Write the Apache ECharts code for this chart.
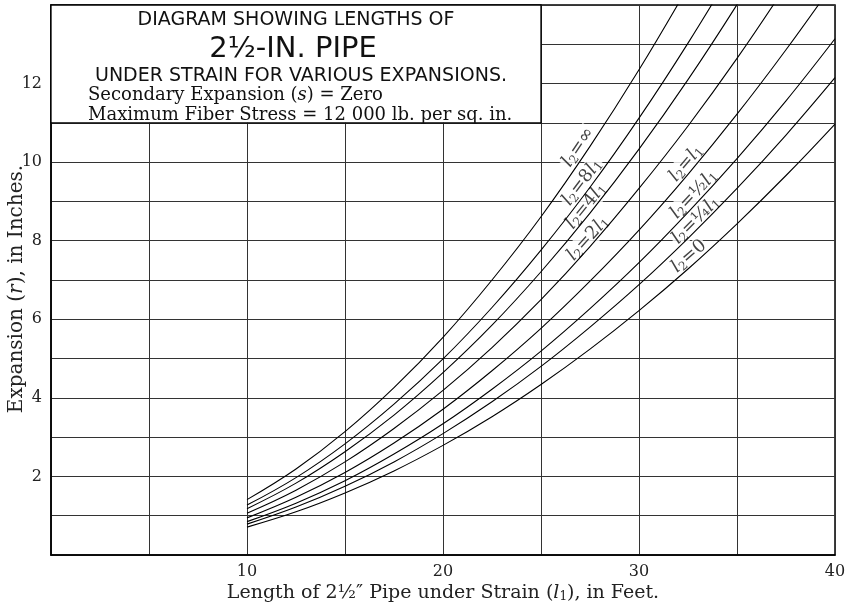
<!DOCTYPE html>
<html>
<head>
<meta charset="utf-8">
<script src="https://cdn.jsdelivr.net/npm/echarts@6/dist/echarts.min.js"></script>
<style>
  html, body { margin: 0; padding: 0; background: #fff; }
  #chart { width: 851px; height: 609px; }
</style>
</head>
<body>
<div id="chart"></div>
<script>
// Pipe length under strain (feet) where each curve is sampled
const lengths = [10, 12.5, 15, 17.5, 20, 22.5, 25, 27.5, 30, 32.5, 35, 37.5, 40];

// Expansion r (inches) for each ratio of l2 to l1
const rInfinite = [1.41, 2.19, 3.14, 4.26, 5.54, 7.00, 8.61, 10.40, 12.35, 14.46];
const rEight    = [1.27, 1.97, 2.83, 3.84, 4.99, 6.30, 7.76, 9.36, 11.12, 13.03, 15.08];
const rFour     = [1.18, 1.83, 2.63, 3.56, 4.64, 5.85, 7.21, 8.70, 10.33, 12.10, 14.01, 16.05];
const rTwo      = [1.065, 1.65, 2.37, 3.22, 4.19, 5.28, 6.50, 7.85, 9.33, 10.92, 12.64, 14.49];
const rOne      = [0.945, 1.47, 2.10, 2.85, 3.71, 4.69, 5.77, 6.97, 8.27, 9.69, 11.22, 12.86, 14.60];
const rHalf     = [0.85, 1.32, 1.89, 2.57, 3.34, 4.22, 5.19, 6.27, 7.44, 8.72, 10.09, 11.56, 13.14];
const rQuarter  = [0.786, 1.22, 1.75, 2.37, 3.09, 3.90, 4.80, 5.80, 6.88, 8.06, 9.33, 10.69, 12.15];
const rZero     = [0.71, 1.10, 1.58, 2.14, 2.79, 3.52, 4.34, 5.24, 6.22, 7.28, 8.43, 9.66, 10.97];

// Curve captions: the value of l2 for each curve
const curveCaptions = ['∞', '8l1', '4l1', '2l1', 'l1', '½l1', '¼l1', '0'];
// Where each caption sits (feet, inches) and its slant in degrees
const captionAnchors = [[26.9, 10.38], [27.1, 9.49], [27.3, 8.88], [27.4, 8.06],
                        [32.4, 9.97], [32.8, 9.18], [32.9, 8.52], [32.55, 7.60]];
const captionAngles = [56, 53, 51, 48, 50, 47, 45, 41];

const xTickLabels = [10, 20, 30, 40];
const yTickLabels = [2, 4, 6, 8, 10, 12];

const SERIF = "'DejaVu Serif', serif";
const INK = '#111';

const curves = [rInfinite, rEight, rFour, rTwo, rOne, rHalf, rQuarter, rZero];

// "l1" style captions become italic l with a subscript 1
function captionRich(c) {
  let s = '{i|l}{s|2}{t|=}';
  const m = c.match(/^(.*)l1$/);
  if (m) s += (m[1] ? '{t|' + m[1] + '}' : '') + '{i|l}{s|1}';
  else s += '{t|' + c + '}';
  return s;
}

const richStyles = {
  i: { fontFamily: SERIF, fontStyle: 'italic', fontSize: 18, color: INK, lineHeight: 20 },
  t: { fontFamily: SERIF, fontSize: 18, color: INK, lineHeight: 20 },
  s: { fontFamily: SERIF, fontSize: 12, color: INK, lineHeight: 20, padding: [8, 0, 0, 0] }
};

const series = curves.map((vals, k) => ({
  type: 'line',
  name: curveCaptions[k],
  data: vals.map((v, j) => [lengths[j], v]),
  smooth: 0.4,
  showSymbol: false,
  symbol: 'none',
  clip: true,
  z: 4,
  lineStyle: { color: '#000', width: 1.1 },
  silent: true
}));

// Caption box in the upper-left corner of the plot
series[0].markArea = {
  silent: true,
  itemStyle: { color: '#fff', borderColor: '#000', borderWidth: 1.3 },
  data: [[{ coord: [0, 11] }, { coord: [25, 14] }]]
};

// Curve captions
series.push({
  type: 'scatter',
  symbolSize: 0,
  z: 3,
  silent: true,
  data: captionAnchors.map((p, k) => ({
    value: p,
    label: {
      show: true,
      position: 'inside',
      rotate: captionAngles[k],
      formatter: captionRich(curveCaptions[k]),
      backgroundColor: '#fff',
      padding: [0, 1],
      rich: richStyles
    }
  }))
});

const chart = echarts.init(document.getElementById('chart'), null, { renderer: 'canvas' });

const centred = { align: 'center', verticalAlign: 'middle', textAlign: 'center', textVerticalAlign: 'middle', fill: INK };
const leftSet = { align: 'left', verticalAlign: 'middle', textAlign: 'left', textVerticalAlign: 'middle', fill: INK };

chart.setOption({
  backgroundColor: '#fff',
  animation: false,
  grid: {
    left: 51, right: 16, top: 5, bottom: 54,
    outerBoundsMode: 'none', containLabel: false,
    show: true, borderColor: '#000', borderWidth: 1.5, backgroundColor: 'transparent'
  },
  xAxis: {
    type: 'value', min: 0, max: 40, interval: 5,
    axisLine: { show: true, lineStyle: { color: '#000', width: 1.5 } },
    axisTick: { show: false },
    splitLine: { show: true, lineStyle: { color: '#333', width: 1 } },
    axisLabel: {
      margin: 9, color: '#222', fontFamily: SERIF, fontSize: 16,
      formatter: v => xTickLabels.includes(v) ? String(v) : ''
    },
    name: 'Length of 2½″ Pipe under Strain ({i|l}{s|1}), in Feet.',
    nameLocation: 'middle', nameGap: 29, nameMoveOverlap: false,
    nameTextStyle: {
      color: '#222', fontFamily: SERIF, fontSize: 19, verticalAlign: 'top',
      rich: {
        i: { fontFamily: SERIF, fontStyle: 'italic', fontSize: 19, color: '#222' },
        s: { fontFamily: SERIF, fontSize: 12, color: '#222', padding: [7, 0, 0, 0] }
      }
    }
  },
  yAxis: {
    type: 'value', min: 0, max: 14, interval: 1,
    axisLine: { show: true, lineStyle: { color: '#000', width: 1.5 } },
    axisTick: { show: false },
    splitLine: { show: true, lineStyle: { color: '#333', width: 1 } },
    axisLabel: {
      margin: 9, color: '#222', fontFamily: SERIF, fontSize: 16,
      formatter: v => yTickLabels.includes(v) ? String(v) : ''
    },
    name: 'Expansion ({i|r}), in Inches.',
    nameLocation: 'middle', nameGap: 24, nameMoveOverlap: false,
    nameTextStyle: {
      color: '#222', fontFamily: SERIF, fontSize: 20, padding: [0, 18, 0, 0],
      rich: { i: { fontFamily: SERIF, fontStyle: 'italic', fontSize: 20, color: '#222' } }
    }
  },
  graphic: [
    { type: 'text', x: 296, y: 20, z: 100, style: Object.assign({ text: 'DIAGRAM SHOWING LENGTHS OF', font: "19px 'DejaVu Sans'" }, centred) },
    { type: 'text', x: 293, y: 49, z: 100, style: Object.assign({ text: '2½-IN. PIPE', font: "29px 'DejaVu Sans'" }, centred) },
    { type: 'text', x: 301, y: 76, z: 100, style: Object.assign({ text: 'UNDER STRAIN FOR VARIOUS EXPANSIONS.', font: "19px 'DejaVu Sans'" }, centred) },
    { type: 'text', x: 88, y: 95, z: 100, style: Object.assign({
        text: 'Secondary Expansion ({i|s}) = Zero', font: "18px 'DejaVu Serif'",
        rich: { i: { fontFamily: SERIF, fontStyle: 'italic', fontSize: 18, fill: INK } }
      }, leftSet) },
    { type: 'text', x: 88, y: 115, z: 100, style: Object.assign({ text: 'Maximum Fiber Stress = 12 000 lb. per sq. in.', font: "18px 'DejaVu Serif'" }, leftSet) }
  ],
  series: series
});
</script>
</body>
</html>
